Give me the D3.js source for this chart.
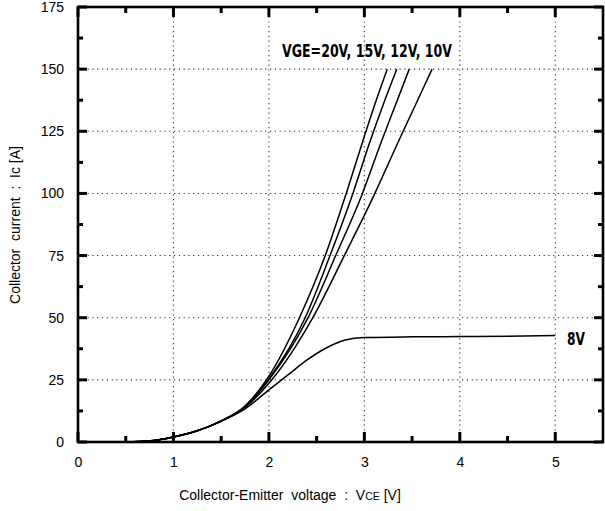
<!DOCTYPE html>
<html>
<head>
<meta charset="utf-8">
<script src="https://cdn.jsdelivr.net/npm/d3@7"></script>
<style>
  html, body { margin: 0; padding: 0; background: #fff; }
  svg { display: block; }
</style>
</head>
<body>
<svg id="chart" width="605" height="511"></svg>
<script>
// ---- data ----
const vce20 = [0, 0.5, 0.8, 1.0, 1.25, 1.5, 1.75, 2.0, 2.32, 2.59, 2.81, 3.0, 3.12, 3.24];
const ic20  = [0, 0, 0.6, 2, 4.5, 8.5, 14.5, 26.5, 50, 75, 100, 123, 137, 150];
const vce15 = [0, 0.5, 0.8, 1.0, 1.25, 1.5, 1.75, 2.0, 2.38, 2.64, 2.88, 3.06, 3.2, 3.34];
const ic15  = [0, 0, 0.6, 2, 4.5, 8.5, 14.3, 25.5, 50, 75, 100, 121, 136, 150];
const vce12 = [0, 0.5, 0.8, 1.0, 1.25, 1.5, 1.75, 2.0, 2.41, 2.70, 2.98, 3.17, 3.32, 3.47];
const ic12  = [0, 0, 0.6, 2, 4.5, 8.5, 14.1, 25, 50, 75, 100, 120, 135, 150];
const vce10 = [0, 0.5, 0.8, 1.0, 1.25, 1.5, 1.75, 2.02, 2.46, 2.79, 3.11, 3.24, 3.37, 3.54, 3.71];
const ic10  = [0, 0, 0.6, 2, 4.5, 8.4, 14, 24.5, 50, 75, 100, 111, 122, 136, 150];
const vce8  = [0, 0.5, 0.8, 1.0, 1.25, 1.5, 1.75, 2.0, 2.2, 2.4, 2.6, 2.8, 3.0, 3.5, 4.0, 4.5, 5.0];
const ic8   = [0, 0, 0.6, 2, 4.5, 8.3, 13.3, 21, 27, 33, 37.8, 41, 42, 42.3, 42.4, 42.5, 42.8];

const xMajorTicks = [0, 1, 2, 3, 4, 5];
const xMinorTicks = [0.5, 1.5, 2.5, 3.5, 4.5];
const yMajorTicks = [0, 25, 50, 75, 100, 125, 150, 175];
const yMinorTicks = [12.5, 37.5, 62.5, 87.5, 112.5, 137.5, 162.5];
const xGrid = [1, 2, 3, 4, 5];
const yGrid = [25, 50, 75, 100, 125, 150];

const seriesLabel = "VGE=20V, 15V, 12V, 10V";
const label8 = "8V";

// ---- layout ----
const svg = d3.select("#chart");
const L = 78, R = 603, T = 7, B = 442;
const x = d3.scaleLinear().domain([0, 5.5]).range([L, R]);
const y = d3.scaleLinear().domain([0, 175]).range([B, T]);
const FONT = "Liberation Sans, Arial, sans-serif";

// grid
const g = svg.append("g");
g.selectAll("line.gx").data(xGrid).join("line").attr("class", "gx")
  .attr("x1", d => x(d)).attr("x2", d => x(d)).attr("y1", T).attr("y2", B)
  .attr("stroke", "#333").attr("stroke-width", 1.1).attr("stroke-dasharray", "1.2,3.6");
g.selectAll("line.gy").data(yGrid).join("line").attr("class", "gy")
  .attr("x1", L).attr("x2", R).attr("y1", d => y(d)).attr("y2", d => y(d))
  .attr("stroke", "#333").attr("stroke-width", 1.1).attr("stroke-dasharray", "1.2,3.6");

// curves
const line = d3.line().x(d => x(d[0])).y(d => y(d[1])).curve(d3.curveMonotoneX);
const series = [[vce20, ic20], [vce15, ic15], [vce12, ic12], [vce10, ic10], [vce8, ic8]];
series.forEach(([vs, is]) => {
  svg.append("path").datum(vs.map((v, i) => [v, is[i]]))
    .attr("d", line).attr("fill", "none").attr("stroke", "#000").attr("stroke-width", 1.5);
});

// tick labels via d3 axes (no tick lines)
function styleAxis(sel) {
  sel.select(".domain").remove();
  sel.selectAll(".tick line").remove();
  sel.selectAll(".tick text").attr("font-family", FONT).attr("font-size", 14).attr("fill", "#000");
}
svg.append("g").attr("transform", `translate(0,${B})`)
  .call(d3.axisBottom(x).tickValues(xMajorTicks).tickSize(0).tickPadding(15).tickFormat(d3.format("d")))
  .call(styleAxis);
svg.append("g").attr("transform", `translate(${L},0)`)
  .call(d3.axisLeft(y).tickValues(yMajorTicks).tickSize(0).tickPadding(14).tickFormat(d3.format("d")))
  .call(styleAxis);

// inward tick marks
const tk = svg.append("g").attr("stroke", "#000").attr("stroke-width", 3);
function drawXTicks(vals, len, cls) {
  tk.selectAll("line.b" + cls).data(vals).join("line").attr("class", "b" + cls)
    .attr("x1", d => x(d)).attr("x2", d => x(d)).attr("y1", B).attr("y2", B - len);
  tk.selectAll("line.t" + cls).data(vals).join("line").attr("class", "t" + cls)
    .attr("x1", d => x(d)).attr("x2", d => x(d)).attr("y1", T).attr("y2", T + len);
}
function drawYTicks(vals, len, cls) {
  tk.selectAll("line.l" + cls).data(vals).join("line").attr("class", "l" + cls)
    .attr("y1", d => y(d)).attr("y2", d => y(d)).attr("x1", L).attr("x2", L + len);
  tk.selectAll("line.r" + cls).data(vals).join("line").attr("class", "r" + cls)
    .attr("y1", d => y(d)).attr("y2", d => y(d)).attr("x1", R).attr("x2", R - len);
}
drawXTicks(xMajorTicks, 10, "M");
drawXTicks(xMinorTicks, 6, "m");
drawYTicks(yMajorTicks, 9, "M");
drawYTicks(yMinorTicks, 5, "m");

// frame
svg.append("rect").attr("x", L).attr("y", T).attr("width", R - L).attr("height", B - T)
  .attr("fill", "none").attr("stroke", "#000").attr("stroke-width", 2.6);

// annotations
svg.append("text").attr("x", 282).attr("y", 57).text(seriesLabel)
  .attr("font-family", "DejaVu Sans Condensed, DejaVu Sans, sans-serif").attr("font-weight", "bold")
  .attr("font-size", 17).attr("textLength", 170).attr("lengthAdjust", "spacingAndGlyphs");
svg.append("text").attr("x", 567).attr("y", 345).text(label8)
  .attr("font-family", "DejaVu Sans Condensed, DejaVu Sans, sans-serif").attr("font-weight", "bold")
  .attr("font-size", 17).attr("textLength", 18).attr("lengthAdjust", "spacingAndGlyphs");

// axis titles
const xt = svg.append("text").attr("x", 290).attr("y", 500).attr("text-anchor", "middle")
  .attr("font-family", FONT).attr("font-size", 14).style("white-space", "pre");
xt.append("tspan").text("Collector-Emitter  voltage  :  V");
xt.append("tspan").attr("font-size", 10.5).text("CE");
xt.append("tspan").text(" [V]");

svg.append("text").attr("transform", "translate(20,225) rotate(-90)").attr("text-anchor", "middle")
  .attr("font-family", FONT).attr("font-size", 14)
  .style("white-space", "pre").text("Collector  current  :  Ic [A]");
</script>
</body>
</html>
